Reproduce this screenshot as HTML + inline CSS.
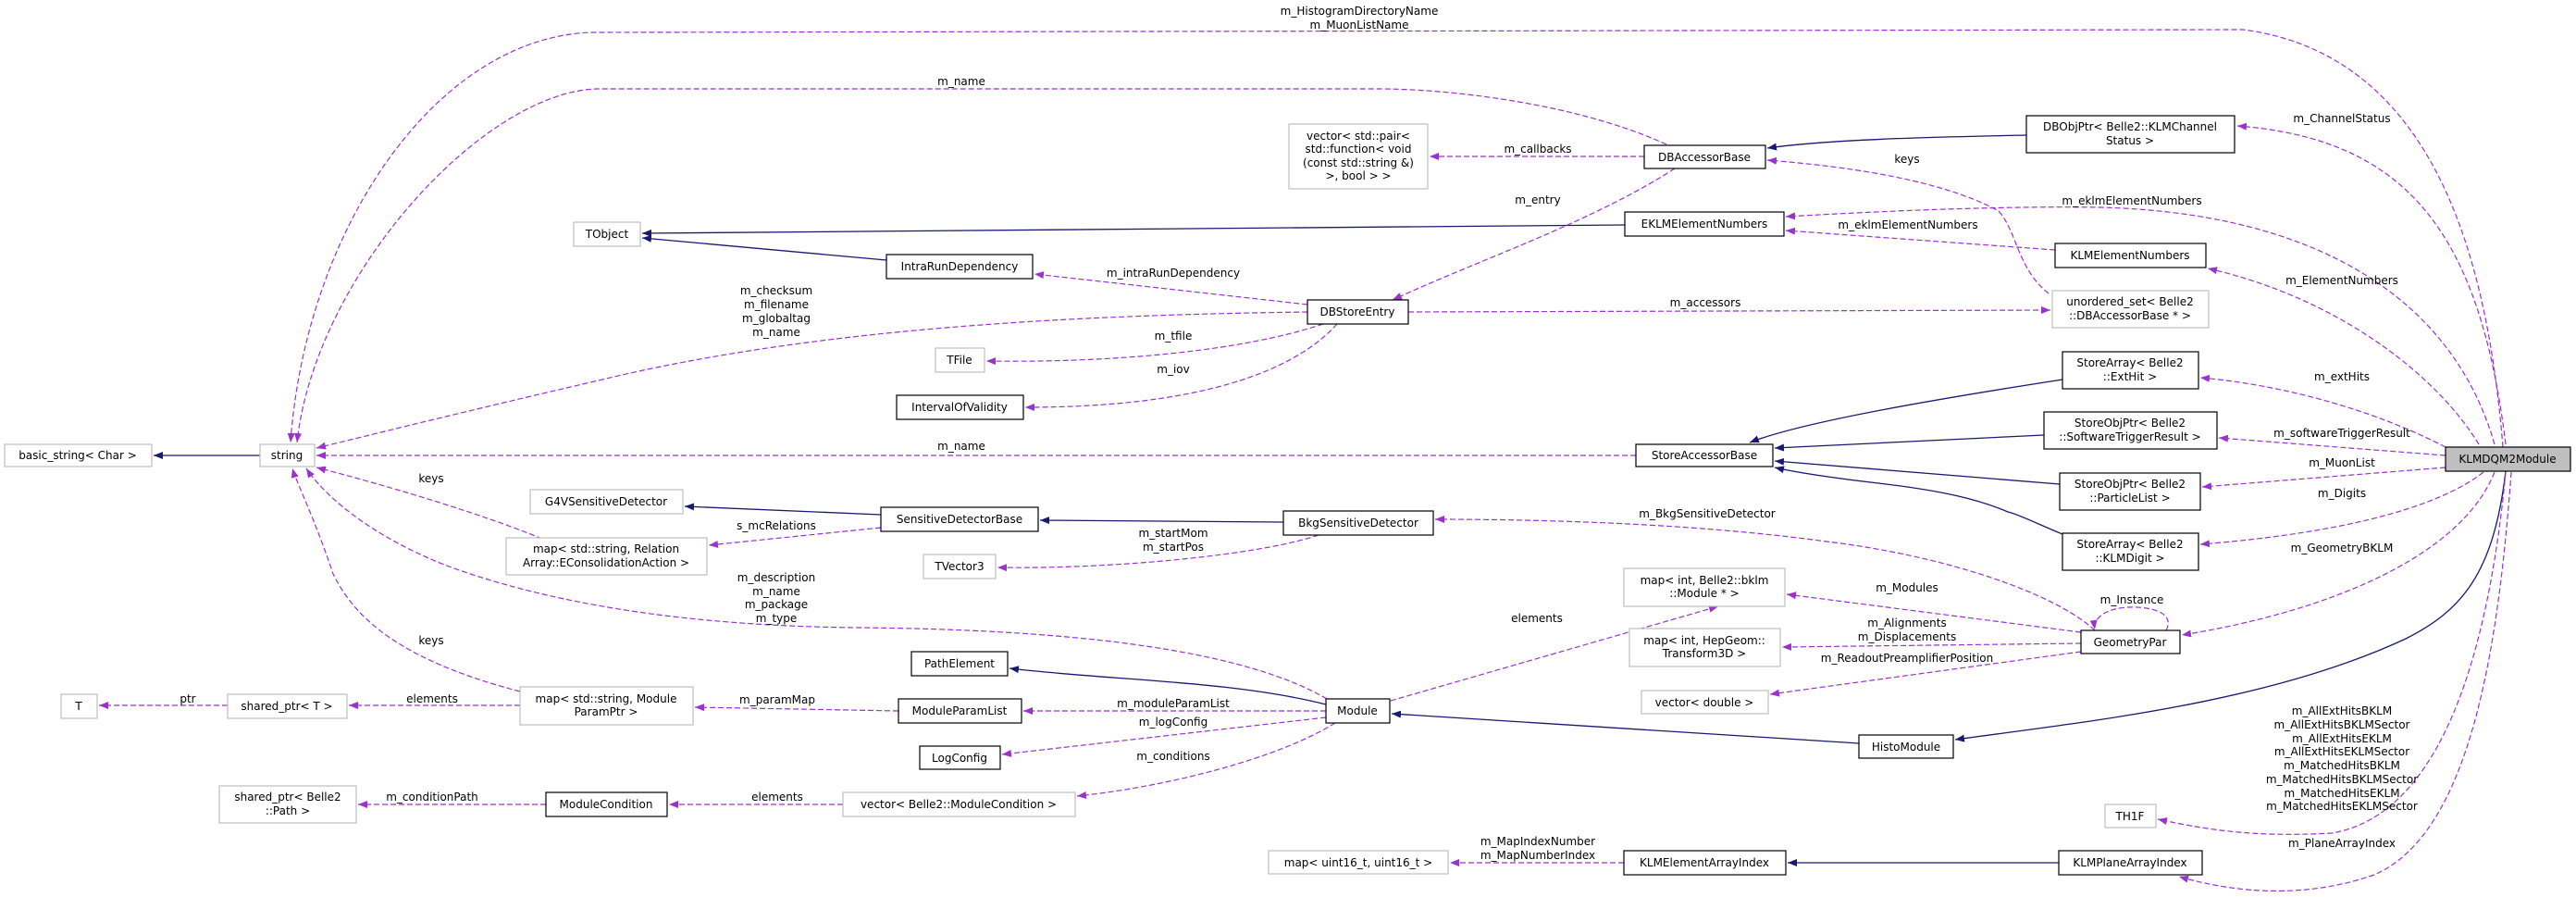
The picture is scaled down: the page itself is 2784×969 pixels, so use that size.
<!DOCTYPE html>
<html><head><meta charset="utf-8">
<style>
html,body{margin:0;padding:0;background:#fff;}
svg{display:block;}
text{font-family:"DejaVu Sans","Liberation Sans",sans-serif;font-size:12px;fill:#000;}
.nb{fill:#fff;stroke:#000;stroke-width:1.2;}
.ng{fill:#fff;stroke:#bfbfbf;stroke-width:1.2;}
.d{fill:none;stroke:#9a32cd;stroke-width:1.2;stroke-dasharray:6,3;marker-end:url(#mp);}
.b{fill:none;stroke:#191970;stroke-width:1.3;marker-end:url(#mb);}
</style></head><body>
<svg width="2784" height="969" viewBox="0 0 2784 969" xmlns="http://www.w3.org/2000/svg">
<defs>
<marker id="mp" markerUnits="userSpaceOnUse" markerWidth="11" markerHeight="9" refX="10" refY="4" orient="auto"><path d="M0,0 L10,4 L0,8 z" fill="#9a32cd"/></marker>
<marker id="mb" markerUnits="userSpaceOnUse" markerWidth="11" markerHeight="9" refX="10" refY="4" orient="auto"><path d="M0,0 L10,4 L0,8 z" fill="#191970"/></marker>
</defs>

<!-- inheritance -->
<path class="b" d="M281,492 L166,492"/>
<path class="b" d="M1756,243 L694,252"/>
<path class="b" d="M958,281 L694,257"/>
<path class="b" d="M2190,146 C2100,148 1980,150 1910,160"/>
<path class="b" d="M952,556 L740,547"/>
<path class="b" d="M1387,564 L1124,562"/>
<path class="b" d="M1433,761 C1330,735 1200,735 1091,722"/>
<path class="b" d="M2009,803 L1504,771"/>
<path class="b" d="M2708,509 C2695,620 2660,660 2600,690 C2450,760 2250,780 2113,799"/>
<path class="b" d="M2225,932 L1932,932"/>
<path class="b" d="M2229,410 C2100,430 1950,455 1891,478"/>
<path class="b" d="M2209,470 L1918,484"/>
<path class="b" d="M2226,523 L1918,498"/>
<path class="b" d="M2229,577 C2200,565 2180,555 2170,553 C2140,540 2100,530 2030,522 C1970,515 1940,510 1918,505"/>

<!-- usage -->
<path class="d" d="M2705,483 C2690,300 2640,60 2424,32 L640,35 C470,40 330,250 314,478"/>
<path class="d" d="M1801,156 C1700,110 1560,96 1490,96 L645,96 C520,100 340,300 321,478"/>
<path class="d" d="M1413,337 C1200,340 900,350 651,410 C500,445 400,470 342,484"/>
<path class="d" d="M1768,492 L342,492"/>
<path class="d" d="M586,582 C520,555 420,525 342,505"/>
<path class="d" d="M1434,755 C1340,700 1150,680 928,678 C700,676 560,640 480,610 C380,570 340,520 331,506"/>
<path class="d" d="M562,747 C420,710 380,660 360,620 C340,560 320,520 316,506"/>
<path class="d" d="M562,762 L377,762"/>
<path class="d" d="M246,762 L107,762"/>
<path class="d" d="M971,768 L751,764"/>
<path class="d" d="M952,570 L766,589"/>
<path class="d" d="M1777,169 L1545,169"/>
<path class="d" d="M1810,182 C1720,240 1600,280 1505,324"/>
<path class="d" d="M1413,329 L1118,296"/>
<path class="d" d="M1430,350 C1340,380 1200,392 1066,390"/>
<path class="d" d="M1445,350 C1400,400 1300,440 1108,440"/>
<path class="d" d="M1522,337 L2216,335"/>
<path class="d" d="M2214,317 C2180,290 2180,250 2160,228 C2100,195 2000,180 1910,173"/>
<path class="d" d="M2221,270 L1930,249"/>
<path class="d" d="M2696,480 C2650,320 2500,230 2270,224 C2150,222 2000,230 1930,234"/>
<path class="d" d="M2708,480 C2680,250 2600,150 2418,136"/>
<path class="d" d="M2679,480 C2630,400 2520,320 2386,290"/>
<path class="d" d="M2643,483 C2560,440 2460,415 2378,408"/>
<path class="d" d="M2643,492 L2398,473"/>
<path class="d" d="M2643,505 L2380,526"/>
<path class="d" d="M2684,510 C2620,560 2480,580 2378,588"/>
<path class="d" d="M2696,510 C2660,600 2520,660 2358,686"/>
<path class="d" d="M2341,681 C2352,660 2320,655 2300,656 C2280,657 2262,665 2264,680"/>
<path class="d" d="M2249,683 L1931,642"/>
<path class="d" d="M2249,695 L1926,699"/>
<path class="d" d="M2249,704 L1913,750"/>
<path class="d" d="M2264,681 C2220,640 2100,600 1974,585 C1850,568 1700,561 1551,561"/>
<path class="d" d="M1503,757 L1857,655"/>
<path class="d" d="M1433,768 L1106,768"/>
<path class="d" d="M1433,775 L1083,815"/>
<path class="d" d="M1443,781 C1380,820 1260,850 1164,860"/>
<path class="d" d="M911,869 L723,869"/>
<path class="d" d="M590,869 L387,869"/>
<path class="d" d="M1425,578 C1360,600 1200,615 1078,613"/>
<path class="d" d="M1755,932 L1567,932"/>
<path class="d" d="M2708,510 C2690,700 2640,880 2520,900 C2430,905 2380,895 2332,885"/>
<path class="d" d="M2714,510 C2700,700 2670,900 2566,945 C2480,975 2400,960 2355,947"/>

<!-- nodes -->
<g text-anchor="middle">
<rect class="ng" x="5" y="480" width="159" height="24"/><text x="84" y="496">basic_string&lt; Char &gt;</text>
<rect class="ng" x="281" y="480" width="59" height="24"/><text x="310" y="496">string</text>
<rect class="ng" x="620" y="240" width="72" height="26"/><text x="656" y="257">TObject</text>
<rect class="ng" x="1393" y="134" width="150" height="70"/>
<text x="1468" y="151">vector&lt; std::pair&lt;</text><text x="1468" y="165">std::function&lt; void</text><text x="1468" y="180">(const std::string &amp;)</text><text x="1468" y="194">&gt;, bool &gt; &gt;</text>
<rect class="ng" x="1011" y="376" width="53" height="26"/><text x="1037" y="393">TFile</text>
<rect class="nb" x="969" y="427" width="137" height="26"/><text x="1037" y="444">IntervalOfValidity</text>
<rect class="nb" x="958" y="275" width="158" height="26"/><text x="1037" y="292">IntraRunDependency</text>
<rect class="nb" x="1413" y="324" width="109" height="26"/><text x="1467" y="341">DBStoreEntry</text>
<rect class="nb" x="1777" y="157" width="131" height="25"/><text x="1842" y="174">DBAccessorBase</text>
<rect class="nb" x="1756" y="229" width="172" height="26"/><text x="1842" y="246">EKLMElementNumbers</text>
<rect class="nb" x="2190" y="125" width="225" height="40"/><text x="2302" y="141">DBObjPtr&lt; Belle2::KLMChannel</text><text x="2302" y="156">Status &gt;</text>
<rect class="nb" x="2221" y="263" width="163" height="26"/><text x="2302" y="280">KLMElementNumbers</text>
<rect class="ng" x="2218" y="314" width="169" height="40"/><text x="2302" y="330">unordered_set&lt; Belle2</text><text x="2302" y="345">::DBAccessorBase * &gt;</text>
<rect class="nb" x="2229" y="380" width="147" height="40"/><text x="2302" y="396">StoreArray&lt; Belle2</text><text x="2302" y="411">::ExtHit &gt;</text>
<rect class="nb" x="2209" y="445" width="187" height="40"/><text x="2302" y="461">StoreObjPtr&lt; Belle2</text><text x="2302" y="476">::SoftwareTriggerResult &gt;</text>
<rect x="2643" y="483" width="135" height="26" fill="#bfbfbf" stroke="#000" stroke-width="1.2"/><text x="2710" y="500">KLMDQM2Module</text>
<rect class="nb" x="1768" y="480" width="148" height="24"/><text x="1842" y="496">StoreAccessorBase</text>
<rect class="ng" x="573" y="529" width="165" height="26"/><text x="655" y="546">G4VSensitiveDetector</text>
<rect class="ng" x="547" y="581" width="217" height="40"/><text x="655" y="597">map&lt; std::string, Relation</text><text x="655" y="612">Array::EConsolidationAction &gt;</text>
<rect class="nb" x="952" y="548" width="170" height="26"/><text x="1037" y="565">SensitiveDetectorBase</text>
<rect class="nb" x="1387" y="552" width="162" height="26"/><text x="1468" y="569">BkgSensitiveDetector</text>
<rect class="ng" x="998" y="599" width="78" height="26"/><text x="1037" y="616">TVector3</text>
<rect class="nb" x="2226" y="511" width="152" height="40"/><text x="2302" y="527">StoreObjPtr&lt; Belle2</text><text x="2302" y="542">::ParticleList &gt;</text>
<rect class="nb" x="2229" y="576" width="147" height="40"/><text x="2302" y="592">StoreArray&lt; Belle2</text><text x="2302" y="607">::KLMDigit &gt;</text>
<rect class="ng" x="1755" y="614" width="174" height="41"/><text x="1842" y="631">map&lt; int, Belle2::bklm</text><text x="1842" y="645">::Module * &gt;</text>
<rect class="ng" x="1761" y="679" width="163" height="41"/><text x="1842" y="696">map&lt; int, HepGeom::</text><text x="1842" y="710">Transform3D &gt;</text>
<rect class="ng" x="1774" y="746" width="137" height="25"/><text x="1842" y="763">vector&lt; double &gt;</text>
<rect class="nb" x="2249" y="681" width="107" height="25"/><text x="2302" y="698">GeometryPar</text>
<rect class="nb" x="985" y="704" width="104" height="26"/><text x="1037" y="721">PathElement</text>
<rect class="nb" x="971" y="755" width="133" height="26"/><text x="1037" y="772">ModuleParamList</text>
<rect class="nb" x="1433" y="755" width="69" height="26"/><text x="1467" y="772">Module</text>
<rect class="nb" x="994" y="806" width="87" height="25"/><text x="1037" y="823">LogConfig</text>
<rect class="ng" x="66" y="750" width="39" height="26"/><text x="85" y="767">T</text>
<rect class="ng" x="246" y="750" width="129" height="26"/><text x="310" y="767">shared_ptr&lt; T &gt;</text>
<rect class="ng" x="562" y="742" width="187" height="41"/><text x="655" y="759">map&lt; std::string, Module</text><text x="655" y="773">ParamPtr &gt;</text>
<rect class="ng" x="237" y="849" width="148" height="40"/><text x="311" y="865">shared_ptr&lt; Belle2</text><text x="311" y="880">::Path &gt;</text>
<rect class="nb" x="590" y="856" width="131" height="26"/><text x="655" y="873">ModuleCondition</text>
<rect class="ng" x="911" y="856" width="251" height="26"/><text x="1036" y="873">vector&lt; Belle2::ModuleCondition &gt;</text>
<rect class="nb" x="2009" y="794" width="102" height="25"/><text x="2060" y="811">HistoModule</text>
<rect class="ng" x="2275" y="869" width="55" height="25"/><text x="2302" y="886">TH1F</text>
<rect class="ng" x="1371" y="919" width="194" height="25"/><text x="1468" y="936">map&lt; uint16_t, uint16_t &gt;</text>
<rect class="nb" x="1755" y="919" width="175" height="26"/><text x="1842" y="936">KLMElementArrayIndex</text>
<rect class="nb" x="2225" y="919" width="155" height="26"/><text x="2302" y="936">KLMPlaneArrayIndex</text>
</g>

<!-- edge labels -->
<g text-anchor="middle">
<text x="1469" y="16">m_HistogramDirectoryName</text><text x="1469" y="31">m_MuonListName</text>
<text x="1039" y="92">m_name</text>
<text x="1662" y="165">m_callbacks</text>
<text x="1662" y="220">m_entry</text>
<text x="2061" y="176">keys</text>
<text x="2531" y="132">m_ChannelStatus</text>
<text x="2304" y="221">m_eklmElementNumbers</text>
<text x="2062" y="247">m_eklmElementNumbers</text>
<text x="1268" y="299">m_intraRunDependency</text>
<text x="839" y="318">m_checksum</text><text x="839" y="333">m_filename</text><text x="839" y="348">m_globaltag</text><text x="839" y="363">m_name</text>
<text x="2531" y="307">m_ElementNumbers</text>
<text x="1843" y="331">m_accessors</text>
<text x="1268" y="367">m_tfile</text>
<text x="1268" y="403">m_iov</text>
<text x="2531" y="411">m_extHits</text>
<text x="2531" y="472">m_softwareTriggerResult</text>
<text x="1039" y="486">m_name</text>
<text x="466" y="521">keys</text>
<text x="2531" y="504">m_MuonList</text>
<text x="2531" y="537">m_Digits</text>
<text x="1845" y="559">m_BkgSensitiveDetector</text>
<text x="839" y="572">s_mcRelations</text>
<text x="1268" y="580">m_startMom</text><text x="1268" y="595">m_startPos</text>
<text x="2531" y="596">m_GeometryBKLM</text>
<text x="839" y="628">m_description</text><text x="839" y="643">m_name</text><text x="839" y="657">m_package</text><text x="839" y="672">m_type</text>
<text x="2061" y="639">m_Modules</text>
<text x="2304" y="652">m_Instance</text>
<text x="1661" y="672">elements</text>
<text x="2061" y="677">m_Alignments</text><text x="2061" y="692">m_Displacements</text>
<text x="466" y="696">keys</text>
<text x="2061" y="715">m_ReadoutPreamplifierPosition</text>
<text x="203" y="759">ptr</text>
<text x="467" y="759">elements</text>
<text x="840" y="760">m_paramMap</text>
<text x="1268" y="764">m_moduleParamList</text>
<text x="1268" y="784">m_logConfig</text>
<text x="1268" y="821">m_conditions</text>
<text x="467" y="865">m_conditionPath</text>
<text x="840" y="865">elements</text>
<text x="2531" y="772">m_AllExtHitsBKLM</text><text x="2531" y="787">m_AllExtHitsBKLMSector</text><text x="2531" y="802">m_AllExtHitsEKLM</text><text x="2531" y="816">m_AllExtHitsEKLMSector</text><text x="2531" y="831">m_MatchedHitsBKLM</text><text x="2531" y="846">m_MatchedHitsBKLMSector</text><text x="2531" y="861">m_MatchedHitsEKLM</text><text x="2531" y="875">m_MatchedHitsEKLMSector</text>
<text x="1662" y="913">m_MapIndexNumber</text><text x="1662" y="928">m_MapNumberIndex</text>
<text x="2531" y="915">m_PlaneArrayIndex</text>
</g>
</svg>
</body></html>
